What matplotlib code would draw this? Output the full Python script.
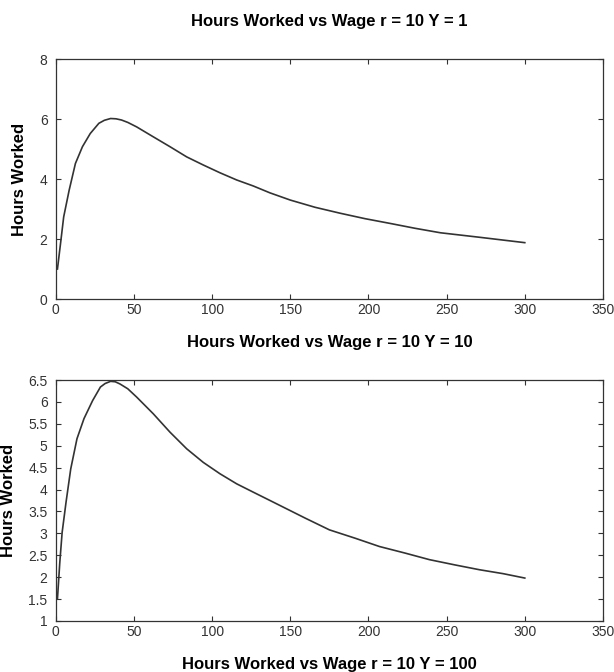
import matplotlib
matplotlib.use('Agg')
import matplotlib.pyplot as plt

plt.rcParams['font.family'] = ['Liberation Sans', 'DejaVu Sans']

# Y = 1 curve
wage_y1 = [1, 3, 5, 8.5, 12.5, 17, 22, 27.5, 31, 35, 38.5, 42, 46, 51.7,
           62.3, 73, 83.7, 94.3, 105, 115.7, 126.3, 137, 150, 165.8, 182,
           197.8, 214, 229.7, 246, 271, 300]
hours_y1 = [1.0, 1.86, 2.74, 3.63, 4.52, 5.08, 5.52, 5.86, 5.96, 6.02, 6.01,
            5.97, 5.89, 5.74, 5.41, 5.08, 4.74, 4.47, 4.21, 3.97, 3.77, 3.54,
            3.30, 3.06, 2.86, 2.68, 2.52, 2.36, 2.21, 2.06, 1.88]

# Y = 10 curve
wage_y10 = [1, 2.5, 4, 6.5, 9.5, 13.5, 18, 23.5, 28.5, 31.5, 35, 38, 41, 46,
            51.7, 62.3, 73, 83.7, 94.3, 105, 115.7, 126.3, 137, 159.4,
            175, 191.4, 207, 223.4, 239, 255.3, 271, 286.2, 300]
hours_y10 = [1.5, 2.33, 3.02, 3.71, 4.47, 5.16, 5.62, 6.03, 6.34, 6.42, 6.47,
             6.46, 6.41, 6.30, 6.11, 5.73, 5.31, 4.93, 4.62, 4.36, 4.13, 3.94,
             3.75, 3.35, 3.08, 2.89, 2.70, 2.55, 2.40, 2.28, 2.17, 2.08,
             1.98]

xticks = [0, 50, 100, 150, 200, 250, 300, 350]
yticks_top = [0, 2, 4, 6, 8]
yticks_bot = [1, 1.5, 2, 2.5, 3, 3.5, 4, 4.5, 5, 5.5, 6, 6.5]
ylabels_bot = ['1', '1.5', '2', '2.5', '3', '3.5', '4', '4.5', '5', '5.5', '6', '6.5']

titles = ['Hours Worked vs Wage r = 10 Y = 1',
          'Hours Worked vs Wage r = 10 Y = 10',
          'Hours Worked vs Wage r = 10 Y = 100']

fig = plt.figure(figsize=(6.14, 6.72), dpi=100)
ax1 = fig.add_axes([0.091, 0.555, 0.891, 0.357])
ax2 = fig.add_axes([0.091, 0.0759, 0.891, 0.3586])

line_col = '#333333'
for ax in (ax1, ax2):
    ax.set_xlim(0, 350)
    ax.set_xticks(xticks)
    ax.tick_params(direction='in', top=True, right=True, length=3.5,
                   width=0.8, colors='#333333', labelsize=10, labelcolor='#333333')
    ax.tick_params(axis='x', pad=3)
    ax.tick_params(axis='y', pad=6)
    for s in ax.spines.values():
        s.set_color('#333333')
        s.set_linewidth(0.9)

ax1.plot(wage_y1, hours_y1, color=line_col, lw=1.2)
ax1.set_ylim(0, 8)
ax1.set_yticks(yticks_top)
ax1.set_ylabel('Hours Worked', fontsize=12, fontweight='bold')
ax1.yaxis.set_label_coords(-0.052, 0.5)

ax2.plot(wage_y10, hours_y10, color=line_col, lw=1.2)
ax2.set_ylim(1, 6.5)
ax2.set_yticks(yticks_bot)
ax2.set_yticklabels(ylabels_bot)
ax2.set_ylabel('Hours Worked', fontsize=12, fontweight='bold')
ax2.yaxis.set_label_coords(-0.072, 0.5)

cx = 0.5365
fig.text(cx, 0.9618, titles[0], ha='center', va='baseline', fontsize=12, fontweight='bold')
fig.text(cx, 0.4832, titles[1], ha='center', va='baseline', fontsize=12, fontweight='bold')
fig.text(cx, 0.004, titles[2], ha='center', va='baseline', fontsize=12, fontweight='bold')

fig.savefig('out.png', dpi=100)
